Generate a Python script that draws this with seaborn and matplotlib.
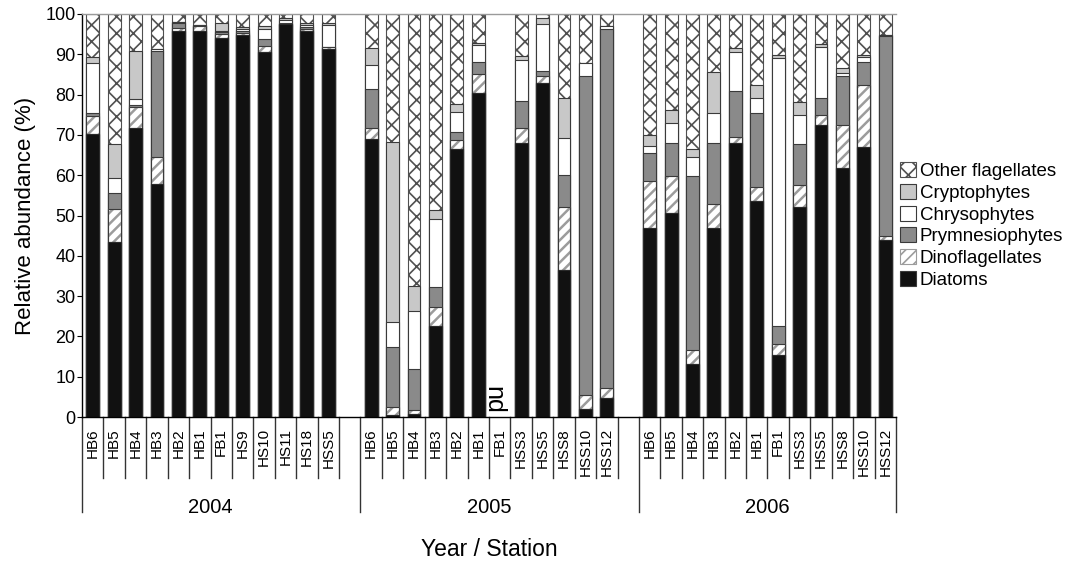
import numpy as np
import pandas as pd
import matplotlib
matplotlib.use("Agg")
import matplotlib.pyplot as plt
import matplotlib.transforms as mtransforms
from matplotlib.patches import Patch
import seaborn as sns

# ---------------- data ----------------
years = ["2004", "2005", "2006"]
stations_2004 = ["HB6", "HB5", "HB4", "HB3", "HB2", "HB1", "FB1", "HS9", "HS10", "HS11", "HS18", "HSS5"]
stations_2005 = ["HB6", "HB5", "HB4", "HB3", "HB2", "HB1", "FB1", "HSS3", "HSS5", "HSS8", "HSS10", "HSS12"]
stations_2006 = ["HB6", "HB5", "HB4", "HB3", "HB2", "HB1", "FB1", "HSS3", "HSS5", "HSS8", "HSS10", "HSS12"]

series_names = ["Diatoms", "Dinoflagellates", "Prymnesiophytes", "Chrysophytes", "Cryptophytes", "Other flagellates"]

nan = float("nan")
diatoms_2004 = [70.1, 43.5, 71.6, 57.9, 95.8, 95.9, 94.1, 94.8, 90.6, 97.4, 95.9, 91.2]
dino_2004 = [4.7, 8.0, 5.4, 6.7, 0.7, 1.1, 1.0, 0.4, 1.4, 0.2, 0.5, 0.5]
prym_2004 = [0.7, 4.2, 0.5, 26.3, 1.2, 0.0, 0.5, 0.6, 1.8, 0.2, 0.3, 0.2]
chryso_2004 = [12.4, 3.5, 1.5, 0.5, 0.3, 0.3, 0.3, 0.4, 2.6, 0.8, 0.6, 5.3]
crypto_2004 = [1.5, 8.5, 11.9, 0.0, 0.0, 0.0, 1.9, 0.6, 0.7, 0.3, 0.5, 0.5]
other_2004 = [10.6, 32.3, 9.1, 8.6, 2.0, 2.7, 2.2, 3.2, 2.9, 1.1, 2.2, 2.3]

diatoms_2005 = [68.9, 0.4, 0.8, 22.5, 66.4, 80.5, nan, 68.0, 82.9, 36.4, 2.1, 4.6]
dino_2005 = [2.9, 2.2, 1.0, 4.8, 2.3, 4.6, nan, 3.6, 1.7, 15.8, 3.3, 2.6]
prym_2005 = [9.7, 14.8, 10.2, 5.0, 1.9, 2.9, nan, 6.8, 1.2, 7.8, 79.2, 89.2]
chryso_2005 = [5.8, 6.2, 14.2, 16.8, 5.0, 4.3, nan, 10.2, 11.7, 9.3, 3.3, 0.6]
crypto_2005 = [4.3, 44.7, 6.3, 2.2, 2.0, 0.6, nan, 1.0, 1.4, 9.8, 0.0, 0.0]
other_2005 = [8.4, 31.7, 67.5, 48.7, 22.4, 7.1, nan, 10.4, 1.1, 20.9, 12.1, 3.0]

diatoms_2006 = [46.8, 50.7, 13.1, 46.8, 68.0, 53.6, 15.5, 52.2, 72.4, 61.7, 66.9, 43.9]
dino_2006 = [11.7, 9.2, 3.5, 6.0, 1.5, 3.5, 2.7, 5.3, 2.5, 10.7, 15.4, 1.0]
prym_2006 = [6.9, 8.0, 43.3, 15.1, 11.5, 18.4, 4.3, 10.2, 4.2, 12.2, 5.8, 49.6]
chryso_2006 = [1.9, 5.1, 4.7, 7.6, 9.6, 3.6, 66.7, 7.2, 12.8, 0.7, 1.3, 0.2]
crypto_2006 = [2.7, 3.2, 1.8, 10.2, 0.9, 3.2, 0.6, 3.3, 0.6, 1.2, 0.4, 0.0]
other_2006 = [30.0, 23.8, 33.6, 14.3, 8.5, 17.7, 10.2, 21.8, 7.5, 13.5, 10.2, 5.3]

nd_label = "nd"

groups = [
    ("2004", stations_2004, [diatoms_2004, dino_2004, prym_2004, chryso_2004, crypto_2004, other_2004]),
    ("2005", stations_2005, [diatoms_2005, dino_2005, prym_2005, chryso_2005, crypto_2005, other_2005]),
    ("2006", stations_2006, [diatoms_2006, dino_2006, prym_2006, chryso_2006, crypto_2006, other_2006]),
]

# ---------------- build table ----------------
records, order = [], []
tick_pos, tick_lab = [], []
year_centers = []
gap_idx = []
nd_idx = []
for gi, (yr, stations, series) in enumerate(groups):
    start = len(order)
    for si, st in enumerate(stations):
        key = f"{yr} {st}"
        tick_pos.append(len(order))
        tick_lab.append(st)
        vals = [s[si] for s in series]
        if np.isnan(vals[0]):
            nd_idx.append(len(order))
        else:
            records.append(dict(key=key, **dict(zip(series_names, vals))))
        order.append(key)
    year_centers.append((start + len(order) - 1) / 2)
    if gi < len(groups) - 1:
        gap_idx.append(len(order))
        order.append(f"gap{gi}")

df = pd.DataFrame(records)
cum_cols = []
running = np.zeros(len(df))
for name in series_names:
    running = running + df[name].values
    col = "cum_" + name
    df[col] = running
    cum_cols.append(col)

# ---------------- styling ----------------
plt.rcParams["font.family"] = ["Liberation Sans", "DejaVu Sans"]
plt.rcParams["hatch.linewidth"] = 1.2

edge_dark = "#3a3a3a"
styles = {
    "Other flagellates": dict(color="white", hatch="xx", edgecolor="#505050"),
    "Cryptophytes": dict(color="#c8c8c8", hatch=None, edgecolor=edge_dark),
    "Chrysophytes": dict(color="white", hatch=None, edgecolor=edge_dark),
    "Prymnesiophytes": dict(color="#8a8a8a", hatch=None, edgecolor=edge_dark),
    "Dinoflagellates": dict(color="white", hatch="///", edgecolor="#9c9c9c"),
    "Diatoms": dict(color="#111111", hatch=None, edgecolor="#2a2a2a"),
}

fig = plt.figure(figsize=(10.67, 5.64), dpi=100)
ax = fig.add_axes([82 / 1067, 1 - 417 / 564, (896 - 82) / 1067, (417 - 14) / 564])

bar_w = 0.6
for name, col in reversed(list(zip(series_names, cum_cols))):
    st = styles[name]
    n_before = len(ax.patches)
    sns.barplot(data=df, x="key", y=col, order=order, color=st["color"],
                saturation=1, width=bar_w, errorbar=None, ax=ax,
                edgecolor=st["edgecolor"], linewidth=0.8, hatch=st["hatch"])
    if name == "Dinoflagellates":
        for p in ax.patches[n_before:]:
            if hasattr(p, "set_hatch_linewidth"):
                p.set_hatch_linewidth(1.8)

# dark outline over the hatched dinoflagellate segments
sns.barplot(data=df, x="key", y="cum_Dinoflagellates", order=order, fill=False,
            color=edge_dark, saturation=1, width=bar_w, errorbar=None, ax=ax,
            linewidth=0.8)
# redraw diatoms on top so their top edge stays crisp
sns.barplot(data=df, x="key", y="cum_Diatoms", order=order, color="#111111",
            saturation=1, width=bar_w, errorbar=None, ax=ax,
            edgecolor="#2a2a2a", linewidth=0.8)

ax.set_xlim(-0.5, len(order) - 0.5)
ax.set_ylim(0, 100)
ax.set_yticks(np.arange(0, 101, 10))
ax.tick_params(axis="y", length=3.6, width=0.8, pad=1, labelsize=13, direction="out")
ax.set_xticks(tick_pos, tick_lab, rotation=90, fontsize=11)
ax.tick_params(axis="x", length=0, pad=8)

for side in ["left", "bottom"]:
    ax.spines[side].set_color("black")
    ax.spines[side].set_linewidth(1.0)
ax.spines["top"].set_color("#9a9a9a")
ax.spines["top"].set_linewidth(1.0)
ax.spines["right"].set_visible(False)

ax.set_ylabel("Relative abundance (%)", fontsize=16)
ax.yaxis.set_label_coords(-0.056, 0.5)
ax.set_xlabel("Year / Station", fontsize=16.5, va="top")
ax.xaxis.set_label_coords(0.5, -0.30)

# multi-level category separators
trans = mtransforms.blended_transform_factory(ax.transData, ax.transAxes)
long_b = [-0.5] + [g + 0.5 for g in gap_idx] + [len(order) - 0.5]
for k in range(len(order) - 1):
    b = k + 0.5
    if b in long_b:
        continue
    ax.plot([b, b], [0, -0.152], transform=trans, color="#333333", lw=1.0, clip_on=False)
for b in long_b:
    ax.plot([b, b], [0, -0.236], transform=trans, color="#333333", lw=1.0, clip_on=False)
for yc, yr in zip(year_centers, years):
    ax.text(yc, -0.224, yr, transform=trans, ha="center", va="center", fontsize=14.5)

# "nd" marker for missing sample
for i in nd_idx:
    ax.text(i - 0.3, 0.9, nd_label, rotation=270, ha="center", va="bottom", fontsize=18)

# legend
handles = []
for name in reversed(series_names):
    st = styles[name]
    handles.append(Patch(facecolor=st["color"], edgecolor=st["edgecolor"] if st["hatch"] else edge_dark,
                         hatch=st["hatch"], linewidth=0.8, label=name))
fig.legend(handles=handles, loc="center left", bbox_to_anchor=(900 / 1067, 1 - 225.5 / 564),
           frameon=False, fontsize=13.5, handlelength=0.85, handleheight=0.85,
           handletextpad=0.2, labelspacing=0.2, borderpad=0, borderaxespad=0)

fig.savefig("out.png", dpi=100)
